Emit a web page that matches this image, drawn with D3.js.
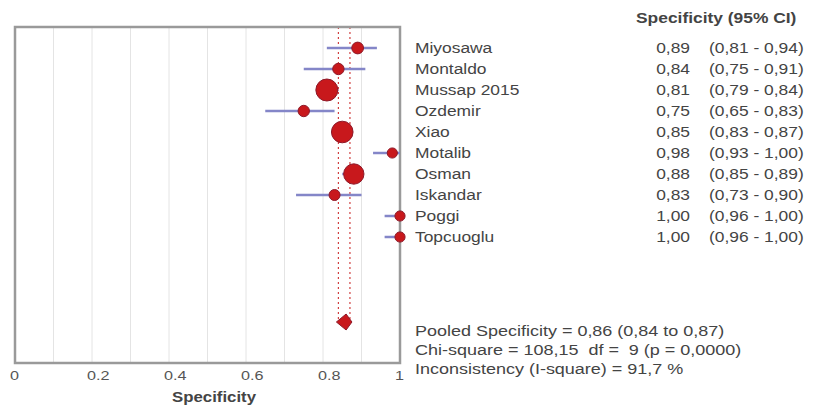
<!DOCTYPE html>
<html>
<head>
<meta charset="utf-8">
<script src="https://cdn.jsdelivr.net/npm/d3@7"></script>
<style>
  body { margin: 0; background: #fff; }
  text { font-family: "Liberation Sans", Arial, sans-serif; white-space: pre; }
</style>
</head>
<body>
<svg id="viz" width="815" height="408"></svg>
<script>
const svg = d3.select("#viz");
const width = +svg.attr("width");
const height = +svg.attr("height");

// data
const studies = ["Miyosawa", "Montaldo", "Mussap 2015", "Ozdemir", "Xiao", "Motalib", "Osman", "Iskandar", "Poggi", "Topcuoglu"];
const spec = [0.89, 0.84, 0.81, 0.75, 0.85, 0.98, 0.88, 0.83, 1.00, 1.00];
const ciLow = [0.81, 0.75, 0.79, 0.65, 0.83, 0.93, 0.85, 0.73, 0.96, 0.96];
const ciHigh = [0.94, 0.91, 0.84, 0.83, 0.87, 1.00, 0.89, 0.90, 1.00, 1.00];
const weights = [160, 150, 560, 150, 540, 120, 480, 140, 120, 120];
const pooled = { est: 0.86, lo: 0.84, hi: 0.87 };
const statLines = [
  "Pooled Specificity = 0,86 (0,84 to 0,87)",
  "Chi-square = 108,15  df =  9 (p = 0,0000)",
  "Inconsistency (I-square) = 91,7 %"
];
const xTicks = [0, 0.2, 0.4, 0.6, 0.8, 1];
const xTickLabels = ["0", "0.2", "0.4", "0.6", "0.8", "1"];

const fmt = v => d3.format(".2f")(v).replace(".", ",");

const frame = { left: 15, right: 400, top: 27, bottom: 363 };
const stretch = 1.2; // the source font is drawn wide

const x = d3.scaleLinear().domain([0, 1]).range([frame.left, frame.right]);
const y = d3.scalePoint().domain(studies).range([48, 237]);
const r = d3.scaleSqrt().domain([0, d3.max(weights)]).range([0, 11]);
const pooledY = 322;

function wideText(g, tx, ty, str, size, anchor, bold) {
  return g.append("text")
    .attr("transform", `translate(${tx},${ty}) scale(${stretch},1)`)
    .attr("font-size", size + "px")
    .attr("font-weight", bold ? "bold" : null)
    .attr("text-anchor", anchor || "start")
    .text(str);
}

// grid
svg.append("g")
  .selectAll("line")
  .data(d3.range(1, 10).map(i => i / 10))
  .join("line")
  .attr("x1", d => x(d)).attr("x2", d => x(d))
  .attr("y1", frame.top).attr("y2", frame.bottom)
  .attr("stroke", "#e4e4e4")
  .attr("stroke-width", 1);

// pooled CI reference lines
[pooled.lo, pooled.hi].forEach(v => {
  svg.append("line")
    .attr("x1", x(v)).attr("x2", x(v))
    .attr("y1", frame.top).attr("y2", pooledY)
    .attr("stroke", "#d04040")
    .attr("stroke-width", 1.2)
    .attr("stroke-dasharray", "2,3");
});

// frame
svg.append("rect")
  .attr("x", frame.left).attr("y", frame.top)
  .attr("width", frame.right - frame.left)
  .attr("height", frame.bottom - frame.top)
  .attr("fill", "none")
  .attr("stroke", "#9a9a9a")
  .attr("stroke-width", 2.5);

const rows = studies.map((s, i) => ({ name: s, est: spec[i], lo: ciLow[i], hi: ciHigh[i], w: weights[i] }));

// CI lines
svg.append("g")
  .selectAll("line")
  .data(rows)
  .join("line")
  .attr("x1", d => x(d.lo)).attr("x2", d => x(d.hi))
  .attr("y1", d => y(d.name)).attr("y2", d => y(d.name))
  .attr("stroke", "#8486c8")
  .attr("stroke-width", 2.5);

// points
svg.append("g")
  .selectAll("circle")
  .data(rows)
  .join("circle")
  .attr("cx", d => x(d.est))
  .attr("cy", d => y(d.name))
  .attr("r", d => r(d.w))
  .attr("fill", "#c8181c")
  .attr("stroke", "#8e1a2a")
  .attr("stroke-width", 1);

// pooled diamond
const dh = 8;
svg.append("path")
  .attr("d", `M${x(pooled.lo) - 2},${pooledY} L${x(pooled.est)},${pooledY - dh} L${x(pooled.hi) + 2},${pooledY} L${x(pooled.est)},${pooledY + dh} Z`)
  .attr("fill", "#c8181c")
  .attr("stroke", "#8e1a2a")
  .attr("stroke-width", 1);

// x axis labels (left-aligned just before each tick)
const axisG = svg.append("g").attr("fill", "#555");
xTicks.forEach((t, i) => wideText(axisG, x(t) - 5, 380, xTickLabels[i], 13.5));

const titleG = svg.append("g").attr("fill", "#444");
wideText(titleG, 214, 402, "Specificity", 14, "middle", true);

// right-hand table
wideText(titleG, 636, 23, "Specificity (95% CI)", 14.5, "start", true);

const table = svg.append("g").attr("fill", "#444");
rows.forEach(d => {
  const yy = y(d.name) + 5;
  wideText(table, 415, yy, d.name, 14.5);
  wideText(table, 690, yy, fmt(d.est), 14.5, "end");
  wideText(table, 709, yy, `(${fmt(d.lo)} - ${fmt(d.hi)})`, 14.5);
});

statLines.forEach((t, i) => {
  wideText(table, 415, 336 + i * 19, t, 15);
});
</script>
</body>
</html>
